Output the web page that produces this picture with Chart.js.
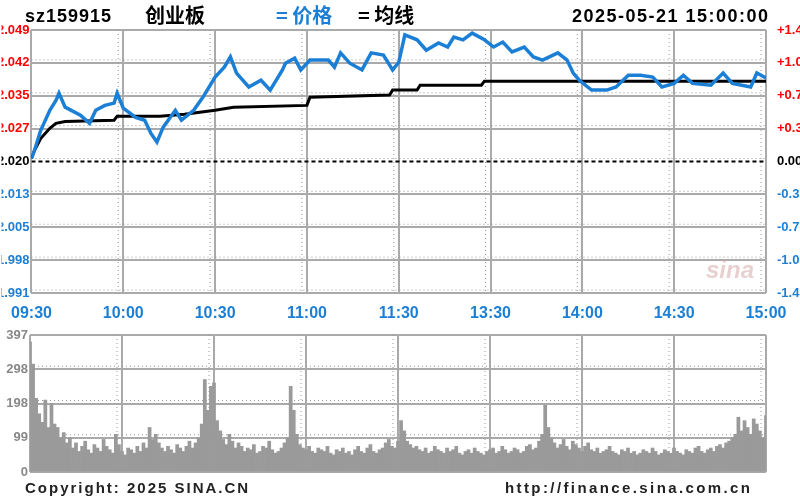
<!DOCTYPE html>
<html>
<head>
<meta charset="utf-8">
<script src="https://cdn.jsdelivr.net/npm/chart.js@4.4.1/dist/chart.umd.min.js"></script>
<style>
  body { margin: 0; width: 800px; height: 500px; background: #fff; overflow: hidden; position: relative;
         font-family: 'Liberation Sans', Arial, sans-serif; }
  canvas { position: absolute; left: 0; }
  #main { top: 0; }
  #vol { top: 320px; }
  .t { position: absolute; font-weight: bold; white-space: nowrap; line-height: 1; }
  .cjk { font-family: 'Noto Sans CJK SC', sans-serif; }
</style>
</head>
<body>
<canvas id="main" width="800" height="330"></canvas>
<canvas id="vol" width="800" height="180"></canvas>

<div class="t" style="left:25px;top:7px;font-size:18px;letter-spacing:1px;">sz159915</div>
<div class="t cjk" style="left:145px;top:5px;font-size:20px;">创业板</div>
<div class="t cjk" style="left:276px;top:5px;font-size:20px;color:#1c7fd6;">=&nbsp;价格</div>
<div class="t cjk" style="left:358px;top:5px;font-size:20px;">=&nbsp;均线</div>
<div class="t" style="left:572px;top:7px;font-size:18px;letter-spacing:1.5px;">2025-05-21 15:00:00</div>
<div class="t" style="left:706px;top:258px;font-size:24px;font-style:italic;color:rgba(215,170,170,0.55);">sina</div>
<div class="t" style="left:25px;top:480px;font-size:15px;letter-spacing:2px;color:#222;">Copyright: 2025 SINA.CN</div>
<div class="t" style="left:505px;top:480px;font-size:15px;letter-spacing:2.4px;color:#222;">http://finance.sina.com.cn</div>

<script>
// ---- 数据 ----
const prevClose = 2.020;
const rangePct = 0.0145;

// 价格（分钟序号 / 价格）
const priceMinutes = [0, 1, 3, 6, 8, 9, 11, 13, 16, 19, 21, 24, 27, 28, 30, 34, 37, 39, 41, 43, 47, 49, 53, 56,
  60, 63, 65, 67, 71, 75, 78, 82, 83, 86, 88, 91, 97, 99, 101, 104, 108, 111, 115, 118, 120,
  122, 126, 129, 133, 136, 138, 141, 144, 148, 151, 154, 157, 161, 164, 167, 172, 175, 177, 179,
  183, 188, 191, 195, 199, 203, 206, 210, 213, 216, 222, 226, 229, 235, 237, 240];
const prices = [2.0207, 2.0225, 2.0269, 2.0314, 2.0336, 2.0352, 2.0321, 2.0314, 2.0303, 2.0285, 2.0314, 2.0325,
  2.0330, 2.0352, 2.0319, 2.0298, 2.0292, 2.0263, 2.0243, 2.0276, 2.0314, 2.0292, 2.0314, 2.0343,
  2.0388, 2.0410, 2.0433, 2.0397, 2.0366, 2.0381, 2.0359, 2.0404, 2.0419, 2.0430, 2.0404, 2.0426,
  2.0426, 2.0410, 2.0442, 2.0419, 2.0404, 2.0442, 2.0437, 2.0404, 2.0421,
  2.0482, 2.0471, 2.0448, 2.0464, 2.0455, 2.0477, 2.0471, 2.0486, 2.0471, 2.0455, 2.0466, 2.0444,
  2.0455, 2.0433, 2.0426, 2.0442, 2.0426, 2.0397, 2.0381,
  2.0359, 2.0359, 2.0366, 2.0392, 2.0392, 2.0388, 2.0366, 2.0374, 2.0392, 2.0374, 2.0370, 2.0397,
  2.0374, 2.0366, 2.0397, 2.0386];

// 均线
const avgMinutes = [0, 1, 3, 6, 8, 11, 27, 28, 42, 50, 60, 66, 90, 91, 117, 118, 126, 127, 147, 148, 240];
const avgPrices = [2.0207, 2.0225, 2.0251, 2.0274, 2.0285, 2.0289, 2.0292, 2.0301, 2.0301, 2.0305, 2.0314,
  2.0321, 2.0325, 2.0343, 2.0348, 2.0359, 2.0359, 2.0370, 2.0370, 2.0379, 2.0379];

// 成交量（每分钟）
const volumes = [
  380, 315, 215, 170, 145, 210, 130, 200, 140, 130, 100, 115, 85, 100,
  70, 85, 60, 75, 90, 65, 55, 80, 70, 60, 95, 75, 65, 55, 110, 80, 60, 50, 70, 65, 55, 75, 60, 85, 70,
  130, 95, 110, 85, 70, 60, 75,
  65, 55, 80, 70, 60, 75, 90, 70, 85, 100, 140,
  270, 180, 250, 260, 150, 120,
  95, 80, 110, 90, 70, 85, 75, 60, 70, 65, 80, 55, 60, 75, 70, 90, 65, 55, 60, 70, 85, 100,
  250, 180,
  110, 80, 70, 65, 75, 60, 55, 70, 65, 60, 75, 55, 50, 65, 60, 70, 55, 60, 50, 65, 75, 60, 55, 70, 80,
  60, 55, 65, 70, 85, 95, 75, 70, 90,
  150, 120, 90, 80, 70, 75, 65, 60, 70, 55, 60, 75, 65, 60, 55, 70, 60, 65, 75, 55, 50, 60, 65, 55, 70,
  60, 55, 50, 60, 65, 70, 55, 60, 75, 65, 55, 60, 70, 65, 55, 60, 75, 80, 65, 70, 90, 110,
  195, 130, 100,
  85, 70, 80, 95, 75, 65, 90, 80, 70, 60, 75, 85, 65, 60, 70, 55, 60, 65, 75, 60, 55, 50, 65, 60, 70,
  55, 60, 50, 55, 65, 60, 55, 70, 60, 50, 55, 65, 60, 55, 70, 60, 55, 50, 65, 60, 55, 70, 75, 60, 55,
  65, 70, 60, 75, 80, 70, 85, 90, 100, 110,
  160, 120, 150, 130, 110, 155, 140, 120, 100, 165
];

const timeTicks = ['09:30', '10:00', '10:30', '11:00', '11:30', '13:30', '14:00', '14:30', '15:00'];
const priceTicks = ['2.049', '2.042', '2.035', '2.027', '2.020', '2.013', '2.005', '1.998', '1.991'];
const pctTicks = ['+1.45%', '+1.09%', '+0.72%', '+0.36%', '0.00%', '-0.36%', '-0.72%', '-1.09%', '-1.45%'];
const volTicks = ['397', '298', '198', '99', '0'];
const volMax = 400;

// ---- 样式 ----
const BLUE = '#1c7fd6';
const GRID = '#aaaaaa';
const FONT = "'Liberation Sans', Arial, sans-serif";

const priceMax = prevClose * (1 + rangePct);
const priceMin = prevClose * (1 - rangePct);

function labelColor(i) {
  if (i < 4) return '#ff0000';
  if (i === 4) return '#000000';
  return BLUE;
}

// 网格旁的虚点线
const dotLines = {
  id: 'dotLines',
  beforeDatasetsDraw(chart) {
    const { ctx, chartArea: a, scales } = chart;
    ctx.save();
    ctx.strokeStyle = '#999';
    ctx.lineWidth = 1;
    ctx.setLineDash([1, 3]);
    scales.x.ticks.forEach((t, i) => {
      if (i === 0) return;
      const px = scales.x.getPixelForValue(t.value) - 5;
      ctx.beginPath(); ctx.moveTo(px, a.top); ctx.lineTo(px, a.bottom); ctx.stroke();
    });
    scales.y.ticks.forEach((t, i) => {
      if (i === 0) return;
      const py = scales.y.getPixelForValue(t.value) - 3;
      ctx.beginPath(); ctx.moveTo(a.left, py); ctx.lineTo(a.right, py); ctx.stroke();
    });
    ctx.restore();
  }
};

const xAxis = (showLabels) => ({
  type: 'linear',
  min: 0,
  max: 240,
  offset: false,
  afterBuildTicks: (s) => { s.ticks = timeTicks.map((_, i) => ({ value: i * 30 })); },
  afterFit: (s) => { s.height = showLabels ? 37 : 0; },
  grid: { color: GRID, lineWidth: 2, drawTicks: false, offset: false },
  border: { display: false },
  ticks: {
    display: showLabels,
    autoSkip: false,
    maxRotation: 0,
    padding: 11,
    color: BLUE,
    font: { family: FONT, size: 16, weight: 'bold' },
    callback: (v, i) => timeTicks[i]
  }
});

new Chart(document.getElementById('main'), {
  type: 'line',
  data: {
    datasets: [
      {
        label: '价格',
        data: priceMinutes.map((m, i) => ({ x: m, y: prices[i] })),
        borderColor: BLUE,
        borderWidth: 3.5,
        pointRadius: 0,
        tension: 0,
        order: 1
      },
      {
        label: '均线',
        data: avgMinutes.map((m, i) => ({ x: m, y: avgPrices[i] })),
        borderColor: '#000',
        borderWidth: 3,
        pointRadius: 0,
        tension: 0,
        order: 2
      },
      {
        label: '昨收',
        data: [{ x: 0, y: prevClose }, { x: 240, y: prevClose }],
        borderColor: '#000',
        borderWidth: 2,
        borderDash: [4, 3],
        pointRadius: 0,
        order: 3
      }
    ]
  },
  options: {
    responsive: false,
    animation: false,
    layout: { padding: { top: 30, left: 0, right: 0, bottom: 0 } },
    plugins: { legend: { display: false }, tooltip: { enabled: false } },
    scales: {
      x: xAxis(true),
      y: {
        position: 'left',
        min: priceMin,
        max: priceMax,
        afterBuildTicks: (s) => { s.ticks = priceTicks.map((_, i) => ({ value: priceMax - i * (priceMax - priceMin) / 8 })); },
        afterFit: (s) => { s.width = 30; },
        grid: { color: (c) => (c.index === 4 ? 'rgba(0,0,0,0)' : GRID), lineWidth: 2, drawTicks: false },
        border: { display: false },
        ticks: {
          autoSkip: false,
          padding: 2,
          color: (c) => labelColor(c.index),
          font: { family: FONT, size: 13, weight: 'bold' },
          callback: (v, i) => priceTicks[i]
        }
      },
      y2: {
        position: 'right',
        min: priceMin,
        max: priceMax,
        afterBuildTicks: (s) => { s.ticks = pctTicks.map((_, i) => ({ value: priceMax - i * (priceMax - priceMin) / 8 })); },
        afterFit: (s) => { s.width = 34; },
        grid: { display: false },
        border: { display: false },
        ticks: {
          autoSkip: false,
          padding: 3,
          color: (c) => labelColor(c.index),
          font: { family: FONT, size: 13, weight: 'bold' },
          callback: (v, i) => pctTicks[i]
        }
      }
    }
  },
  plugins: [dotLines]
});

new Chart(document.getElementById('vol'), {
  type: 'bar',
  data: {
    datasets: [{
      label: '成交量',
      data: volumes.map((v, i) => ({ x: i, y: v })),
      backgroundColor: '#9a9a9a',
      borderWidth: 0,
      barPercentage: 1,
      categoryPercentage: 1
    }]
  },
  options: {
    responsive: false,
    animation: false,
    layout: { padding: { top: 15, right: 34, bottom: 28, left: 0 } },
    plugins: { legend: { display: false }, tooltip: { enabled: false } },
    scales: {
      x: xAxis(false),
      y: {
        min: 0,
        max: volMax,
        afterBuildTicks: (s) => { s.ticks = volTicks.map((_, i) => ({ value: volMax - i * volMax / 4 })); },
        afterFit: (s) => { s.width = 30; },
        grid: { color: GRID, lineWidth: 2, drawTicks: false },
        border: { display: false },
        ticks: {
          autoSkip: false,
          padding: 2,
          color: '#888',
          font: { family: FONT, size: 13, weight: 'bold' },
          callback: (v, i) => volTicks[i]
        }
      }
    }
  },
  plugins: [dotLines]
});
</script>
</body>
</html>
